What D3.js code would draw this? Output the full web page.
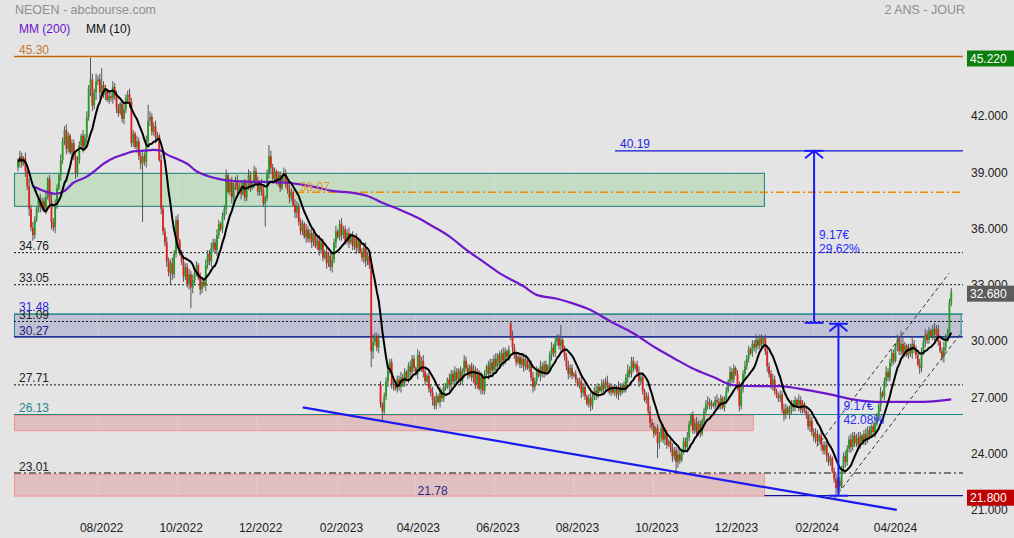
<!DOCTYPE html>
<html><head><meta charset="utf-8">
<script src="https://cdn.jsdelivr.net/npm/d3@7"></script>
<style>
body{margin:0;background:#e4e4e4;}
svg{display:block;font-family:"Liberation Sans",Arial,sans-serif;}
</style>
</head><body>
<svg id="c" width="1014" height="538"></svg>
<script>
// ---------------- DATA ----------------
// daily closes, NEOEN, from 30/05/2022 to 15/05/2024 (one value per trading day)
const closes = [
39.6,39.9,39.5,39.8,39.1,38.3,37.1,36.1,35.7,36.5,
37.1,37.6,37.2,37.5,37.1,37.7,38.7,37.5,36.4,36.1,
37.3,38.2,38.9,39.7,40.7,41.3,40.3,41.0,40.1,40.6,
39.9,39.0,39.7,40.5,41.0,40.4,40.9,42.0,43.5,44.0,
42.6,43.3,43.9,44.0,43.3,43.7,43.2,43.4,42.9,43.1,
43.0,43.6,43.1,42.5,42.2,42.7,41.9,42.4,43.0,43.2,
42.8,40.6,41.1,40.4,40.7,39.9,39.5,39.9,39.6,40.7,
41.8,42.0,41.2,41.5,40.9,41.0,39.7,37.1,35.9,35.3,
34.3,33.7,34.2,33.6,34.7,36.5,35.4,34.7,34.3,33.5,
34.0,33.1,33.6,32.9,33.3,33.7,34.1,33.4,32.8,33.2,
33.0,34.1,34.7,34.3,35.0,35.3,34.9,35.7,36.3,36.0,
36.7,37.1,38.9,38.0,38.5,37.7,38.3,38.6,38.1,38.3,
37.9,38.5,37.7,38.4,38.9,38.2,38.5,39.1,38.6,38.0,
38.4,38.1,37.4,37.7,39.0,39.9,39.3,38.7,39.1,38.5,
38.9,38.2,38.8,39.0,38.4,38.1,37.7,38.0,37.3,36.9,
37.2,36.4,35.9,36.3,35.6,36.0,35.5,35.8,35.3,35.7,
35.1,35.4,34.9,35.3,34.5,34.8,34.2,34.6,34.0,34.4,
35.3,35.9,35.6,36.3,35.7,36.0,35.4,35.8,35.3,35.7,
35.1,35.5,35.0,35.4,34.8,34.5,35.0,34.3,34.6,34.1,
29.5,30.0,30.3,29.7,30.1,26.7,26.3,27.1,27.9,28.5,
28.9,27.7,27.7,27.5,28.0,27.6,28.1,27.8,28.4,28.0,
28.7,28.4,29.1,28.6,28.3,29.3,28.6,29.0,28.4,27.9,
28.2,27.5,27.3,26.9,26.6,27.1,26.8,27.3,27.0,27.6,
27.6,28.0,27.7,28.3,27.9,28.4,28.0,28.5,27.9,28.4,
29.0,28.6,28.2,28.7,28.1,28.5,27.7,28.4,27.5,28.1,
27.4,28.3,28.7,28.3,28.9,28.5,29.1,28.7,29.3,28.9,
29.4,29.0,29.5,29.2,29.6,30.3,29.7,29.3,28.9,29.2,
28.8,29.1,28.7,29.0,28.6,28.8,28.1,27.6,27.9,28.5,
28.2,28.7,28.3,28.8,28.4,28.7,29.3,29.7,29.4,30.0,
30.2,29.8,30.1,29.6,29.2,28.7,28.3,28.6,28.2,28.3,
28.0,27.7,27.9,27.3,27.6,27.1,26.7,27.0,26.6,27.1,
27.4,27.2,27.6,27.4,27.8,27.5,27.9,27.7,27.3,27.6,
27.3,27.5,27.2,27.6,27.3,27.7,27.5,28.1,28.5,28.3,
29.0,28.6,28.8,28.4,27.9,28.1,27.4,26.9,27.1,26.3,
25.7,25.5,25.1,25.4,24.6,24.9,25.4,24.8,25.1,24.5,
24.7,24.3,23.9,24.2,23.6,24.0,23.7,24.2,24.7,24.4,
24.9,25.6,26.1,25.3,25.7,25.2,25.6,25.1,25.8,26.3,
26.7,26.8,26.6,26.7,26.6,26.9,26.8,26.6,27.0,26.5,
26.9,27.4,27.9,28.4,28.0,28.6,28.3,27.6,26.6,27.5,
28.3,28.7,29.1,29.6,29.4,29.9,29.7,30.1,29.8,30.2,
29.9,30.2,29.5,28.7,28.3,27.7,28.0,27.4,27.1,27.0,
27.2,26.4,26.1,26.5,26.2,26.3,26.7,26.5,26.9,26.6,
26.9,26.4,26.7,26.3,26.1,25.5,25.8,25.2,24.9,25.1,
24.7,25.0,24.5,24.2,24.5,23.9,23.6,23.8,23.1,22.7,
22.2,22.6,22.3,23.3,23.9,23.6,24.3,24.8,24.4,25.0,
24.6,24.9,24.5,25.0,24.7,25.1,24.8,25.3,25.0,25.5,
25.2,25.7,26.0,26.6,27.3,27.1,27.9,28.4,28.1,28.9,
29.4,29.0,29.8,30.1,29.5,29.9,29.4,29.8,29.3,29.7,
29.4,29.9,29.6,29.3,28.8,28.6,29.5,30.0,30.4,30.1,
30.6,30.3,30.7,30.4,30.7,30.0,29.5,29.2,29.7,30.2,
30.5,32.1,32.68
];
// wick lengths beyond the body, in tenths of a euro
const wicks = [
2,3,2,1,3,2,4,2,3,2, 1,2,3,2,2,3,1,2,4,2, 3,2,1,3,2,2,3,2,1,2, 2,3,2,2,1,3,2,3,2,4,
3,2,4,2,3,2,2,3,1,2, 2,3,2,3,2,1,2,3,2,2, 3,2,2,1,3,2,3,2,2,3, 2,3,2,2,3,2,1,3,2,2,
3,2,2,3,2,2,3,1,2,3, 2,2,3,2,3,2,2,1,3,2, 1,3,2,2,3,2,2,3,2,1, 2,2,3,1,2,3,2,2,3,2,
3,1,2,2,3,2,1,3,2,2, 2,3,2,1,2,3,3,2,2,1, 2,2,1,3,2,2,3,2,1,3, 3,2,2,2,1,3,2,2,3,2,
1,2,3,2,2,1,3,2,2,3, 2,3,1,2,3,2,2,2,3,1, 2,2,3,2,1,2,3,3,2,2, 3,4,2,2,3,2,1,2,2,3,
2,2,3,1,2,2,3,2,2,1, 2,3,2,2,1,3,2,2,3,2, 1,2,2,3,2,2,1,3,2,2, 2,1,3,2,2,3,2,1,2,2,
3,2,2,1,2,3,2,2,1,3, 2,2,1,3,2,2,2,3,1,2, 2,3,2,1,2,2,3,2,2,1, 2,2,3,2,1,2,2,3,2,2,
1,3,2,2,2,1,2,3,2,2, 2,2,3,1,2,2,3,2,2,1, 2,1,2,3,2,2,1,2,3,2, 2,3,2,1,2,2,2,3,1,2,
1,2,2,3,2,1,2,2,3,2, 2,2,1,2,3,2,2,1,2,2, 3,2,2,1,2,3,2,2,3,2, 1,2,3,2,2,3,2,1,2,2,
3,2,1,2,2,3,2,2,1,2, 2,3,2,2,1,2,3,2,2,1, 2,2,1,3,2,2,1,2,3,2, 2,3,2,2,1,2,2,3,2,2,
2,1,2,3,2,2,3,2,1,2, 2,2,3,2,1,3,2,2,2,1, 3,2,2,1,2,2,3,2,2,3, 2,1,3,2,2,3,2,2,1,2,
3,2,2,1,2,3,2,2,3,2, 2,2,3,2,1,2,3,2,2,1, 2,3,2,2,3,1,2,3,2,2, 2,2,1,3,2,2,3,2,1,2,
2,3,2,2,1,3,2,2,3,2, 2,1,2,3,2,2,1,2,3,2, 2,2,2
];
// opens that differ from the previous close (gaps): [day, open]
const openGaps = [[0,39.3],[195,27.7],[265,31.0]];
// notable wicks: [day, price]
const highSpikes = [[39,45.15],[45,44.6],[70,42.65],[135,40.5],[265,31.1],[292,30.9],[400,30.4],[475,30.6]];
const lowSpikes = [[67,36.4],[82,33.05],[93,31.8],[133,36.15],[190,28.65],[196,25.8],[344,23.8],[354,23.0],[440,21.8]];

// MM(200): trading day -> value
const mm200Days = [8,14,20,25,30,36,41,46,52,57,62,68,73,77,80,86,91,96,102,109,116,123,142,152,161,169,179,188,196,205,215,223,232,241,250,259,272,279,290,298,308,319,331,342,353,363,374,385,399,410,420,435,449,465,483,492,502];
const mm200Values = [38.3,38.05,37.9,38.05,38.5,38.76,39.1,39.5,39.83,40.0,40.16,40.2,40.24,40.2,40.0,39.74,39.5,39.1,38.85,38.67,38.58,38.55,38.5,38.4,38.23,38.05,37.96,37.78,37.42,37.06,36.62,36.17,35.63,34.92,34.3,33.67,32.96,32.51,32.3,32.07,31.7,31.08,30.46,29.74,29.12,28.58,28.13,27.69,27.64,27.64,27.51,27.24,26.94,26.8,26.8,26.83,26.94];

const holidays = ["2022-12-26","2023-04-07","2023-04-10","2023-05-01","2023-12-25","2023-12-26","2024-01-01","2024-03-29","2024-04-01","2024-05-01"];
const monthTickDates = ["2022-08-01","2022-10-01","2022-12-01","2023-02-01","2023-04-01","2023-06-01","2023-08-01","2023-10-01","2023-12-01","2024-02-01","2024-04-01"];
const monthTickLabels = ["08/2022","10/2022","12/2022","02/2023","04/2023","06/2023","08/2023","10/2023","12/2023","02/2024","04/2024"];
const priceTicks = [42,39,36,33,30,27,24,21];

// horizontal levels
const levelValues = [45.22, 34.76, 33.05, 31.09, 27.71, 26.13, 23.01];
const levelLabels = ["45.30","34.76","33.05","31.09","27.71","26.13","23.01"];
const levelKinds  = ["orange","dot","dot","dot","dot","teal","dashdot"];

// zones: top, bottom, last day covered
const zoneTops = [38.99, 31.48, 26.08, 22.94];
const zoneBottoms = [37.23, 30.27, 25.27, 21.78];
const zoneEndDays = [401.5, 507.3, 395.5, 401.5];
const zoneKinds = ["green","blue","pink","pink"];

// target / support lines starting at a given day
const target = {value: 40.19, label: "40.19", fromDay: 321.1};
const resistance = {value: 37.98, label: "38.07", fromDay: 149.5};
const lowLine = {value: 21.80, fromDay: 401.5};

// measurement arrows
const arrowDays = [428.2, 441.3];
const arrowFrom = [31.02, 21.80];
const arrowTo = [40.19, 30.97];
const arrowText1 = ["9.17€", "9.17€"];
const arrowText2 = ["29.62%", "42.08%"];
const arrowTextAt = [35.5, 26.35];

// trend line and channel
const trendDays = [153.15, 472.7], trendValues = [26.51, 21.04];
const chanUpDays = [429.6, 500.8], chanUpValues = [24.41, 33.66];
const chanLoDays = [438.9, 507.8], chanLoValues = [21.62, 30.54];

// price tags on the right axis
const tagValues = [45.22, 32.68, 21.80];
const tagTexts = ["45.220", "32.680", "21.800"];
const tagColors = ["#0c800c", "#5c5c5c", "#c00000"];

// ---------------- CHART ----------------
const W = 1014, H = 538;
const svg = d3.select("#c");
svg.append("rect").attr("width", W).attr("height", H).attr("fill", "#e4e4e4");

const N = closes.length;
// trading days calendar
const hol = new Set(holidays);
const dates = [];
{
  const d = new Date(Date.UTC(2022, 4, 30));
  while (dates.length < N) {
    const wd = d.getUTCDay(), key = d.toISOString().slice(0, 10);
    if (wd !== 0 && wd !== 6 && !hol.has(key)) dates.push(new Date(d));
    d.setUTCDate(d.getUTCDate() + 1);
  }
}
const x = d3.scaleLinear().domain([-2.15, 508.3]).range([14, 963]);
const y = d3.scaleLinear().domain([21.80, 45.22]).range([495.7, 56.5]);
const tx = d3.scaleTime().domain([dates[0], dates[N - 1]]).range([x(0), x(N - 1)]);
const L = x.range()[0], R = x.range()[1];

svg.append("defs").append("clipPath").attr("id", "clip")
  .append("rect").attr("x", L).attr("y", 40).attr("width", R - L).attr("height", 475);

// titles
svg.append("text").attr("x", 15).attr("y", 13.5).attr("font-size", 12.5).attr("fill", "#8f8f8f").text("NEOEN - abcbourse.com");
svg.append("text").attr("x", 965).attr("y", 13.5).attr("text-anchor", "end").attr("font-size", 12.5).attr("fill", "#8f8f8f").text("2 ANS - JOUR");
svg.append("text").attr("x", 19).attr("y", 33).attr("font-size", 12).attr("fill", "#6a10cc").text("MM (200)");
svg.append("text").attr("x", 86).attr("y", 33).attr("font-size", 12).attr("fill", "#111").text("MM (10)");

const g = svg.append("g");

// zones
const zoneFill = {green: "#c4dbc4", blue: "#c1c1d5", pink: "#dfbfbf"};
const zoneStroke = {green: "#2a8a80", blue: "#2a8a8a", pink: "#f29a9a"};
zoneTops.forEach((t, k) => {
  g.append("rect").attr("x", L + 0.5).attr("y", y(t)).attr("width", x(zoneEndDays[k]) - L - 0.5)
    .attr("height", y(zoneBottoms[k]) - y(t))
    .attr("fill", zoneFill[zoneKinds[k]]).attr("stroke", zoneStroke[zoneKinds[k]]).attr("stroke-width", 1.1);
});
// faint vertical grid (visible on zones)
monthTickDates.forEach(ds => {
  const gx = tx(new Date(ds + "T00:00:00Z")) - 2;
  zoneTops.forEach((t, k) => {
    if (gx < x(zoneEndDays[k]) - 1)
      g.append("line").attr("x1", gx).attr("x2", gx).attr("y1", y(t) + 1).attr("y2", y(zoneBottoms[k]) - 1)
        .attr("stroke", "#e2e2e2").attr("stroke-opacity", 0.45).attr("stroke-width", 1);
  });
});

// blue zone border lines extending to the right edge
g.append("line").attr("x1", L).attr("x2", R).attr("y1", y(31.48)).attr("y2", y(31.48)).attr("stroke", "#2a8a8a").attr("stroke-width", 1.1);
g.append("line").attr("x1", L).attr("x2", R).attr("y1", y(30.27)).attr("y2", y(30.27)).attr("stroke", "#121290").attr("stroke-width", 1.3);

// levels
const levelStyle = {
  orange: {stroke: "#c8640a", dash: null, w: 1.3, label: "#c87a30"},
  dot: {stroke: "#111", dash: "2,2", w: 1, label: "#222"},
  teal: {stroke: "#1f8a84", dash: null, w: 1.2, label: "#1f8a8a"},
  dashdot: {stroke: "#111", dash: "7,3,2,3", w: 1.1, label: "#222"}
};
levelValues.forEach((v, k) => {
  const s = levelStyle[levelKinds[k]];
  const ln = g.append("line").attr("x1", L).attr("x2", R).attr("y1", y(v)).attr("y2", y(v))
    .attr("stroke", s.stroke).attr("stroke-width", s.w);
  if (s.dash) ln.attr("stroke-dasharray", s.dash);
});
// target & resistance & low line
g.append("line").attr("x1", x(target.fromDay)).attr("x2", R).attr("y1", y(target.value)).attr("y2", y(target.value))
  .attr("stroke", "#1414d8").attr("stroke-width", 1.3);
g.append("line").attr("x1", x(resistance.fromDay)).attr("x2", R).attr("y1", y(resistance.value)).attr("y2", y(resistance.value))
  .attr("stroke", "#f28a00").attr("stroke-width", 1.3).attr("stroke-dasharray", "8,3,2,3");
g.append("line").attr("x1", x(lowLine.fromDay)).attr("x2", R).attr("y1", y(lowLine.value)).attr("y2", y(lowLine.value))
  .attr("stroke", "#121290").attr("stroke-width", 1.3);

// candles
const opens = closes.map((c, i) => i === 0 ? c : closes[i - 1]);
openGaps.forEach(([i, v]) => opens[i] = v);
const candles = closes.map((c, i) => {
  const o = opens[i], w = (wicks[i] ?? 2) * 0.1;
  return {i, o, c, hi: Math.max(o, c) + w, lo: Math.min(o, c) - w};
});
highSpikes.forEach(([i, v]) => candles[i].hi = v);
lowSpikes.forEach(([i, v]) => candles[i].lo = v);

const cg = g.append("g").attr("clip-path", "url(#clip)");
cg.selectAll("line.wick").data(candles).enter().append("line").attr("class", "wick")
  .attr("x1", d => x(d.i)).attr("x2", d => x(d.i))
  .attr("y1", d => y(d.hi)).attr("y2", d => y(d.lo))
  .attr("stroke", "#555").attr("stroke-width", 1);
cg.selectAll("rect.body").data(candles).enter().append("rect").attr("class", "body")
  .attr("x", d => x(d.i) - 0.9).attr("width", 1.8)
  .attr("y", d => y(Math.max(d.o, d.c)))
  .attr("height", d => Math.max(1, Math.abs(y(d.o) - y(d.c))))
  .attr("fill", d => d.c >= d.o ? "#1f9f1f" : "#e0201c");

// moving averages
const mm10 = closes.map((c, i) => {
  const s = closes.slice(Math.max(0, i - 9), i + 1);
  return {i, v: d3.mean(s)};
});
cg.append("path").datum(mm200Days.map((dd, k) => ({i: dd, v: mm200Values[k]})))
  .attr("d", d3.line().x(d => x(d.i)).y(d => y(d.v)).curve(d3.curveMonotoneX))
  .attr("fill", "none").attr("stroke", "#7016cc").attr("stroke-width", 2.2);
cg.append("path").datum(mm10)
  .attr("d", d3.line().x(d => x(d.i)).y(d => y(d.v)))
  .attr("fill", "none").attr("stroke", "#000").attr("stroke-width", 2).attr("stroke-linejoin", "round");

// trend line & channel
const seg = (days, vals) => d3.line().x((d, k) => x(days[k])).y((d, k) => y(vals[k]))(days);
cg.append("path").attr("d", seg(trendDays, trendValues)).attr("stroke", "#1b1bf0").attr("stroke-width", 2.2).attr("fill", "none");
cg.append("path").attr("d", seg(chanUpDays, chanUpValues)).attr("stroke", "#333").attr("stroke-width", 1).attr("stroke-dasharray", "4,3").attr("fill", "none");
cg.append("path").attr("d", seg(chanLoDays, chanLoValues)).attr("stroke", "#333").attr("stroke-width", 1).attr("stroke-dasharray", "4,3").attr("fill", "none");

// arrows
arrowDays.forEach((dd, k) => {
  const ax = x(dd), y0 = y(arrowFrom[k]), y1 = y(arrowTo[k]);
  const col = "#1a1aff";
  g.append("line").attr("x1", ax).attr("x2", ax).attr("y1", y0).attr("y2", y1).attr("stroke", col).attr("stroke-width", 2);
  [y0, y1].forEach(yy => g.append("line").attr("x1", ax - 9.5).attr("x2", ax + 9.5).attr("y1", yy).attr("y2", yy).attr("stroke", col).attr("stroke-width", 2));
  g.append("path").attr("d", `M${ax - 9},${y1 + 7.5}L${ax},${y1}L${ax + 9},${y1 + 7.5}`).attr("fill", "none").attr("stroke", col).attr("stroke-width", 2);
  g.append("text").attr("x", ax + 5).attr("y", y(arrowTextAt[k])).attr("font-size", 12).attr("fill", "#2a2aff").text(arrowText1[k]);
  g.append("text").attr("x", ax + 5).attr("y", y(arrowTextAt[k]) + 14).attr("font-size", 12).attr("fill", "#2a2aff").text(arrowText2[k]);
});

// level labels
const lab = (txt, xx, yy, col, anchor) => g.append("text").attr("x", xx).attr("y", yy).attr("font-size", 12)
  .attr("fill", col).attr("text-anchor", anchor || "start").text(txt);
levelValues.forEach((v, k) => lab(levelLabels[k], 19, y(v) - 2.5, levelStyle[levelKinds[k]].label));
lab("31.48", 19, y(31.48) - 3, "#2a2ae0");
lab("30.27", 19, y(30.27) - 1.5, "#1e1e80");
lab(target.label, 620, y(target.value) - 3, "#2424e0");
lab(resistance.label, x(resistance.fromDay) + 4, y(resistance.value) - 1.5, "#e8962a");
lab("21.78", x(223), y(21.78) - 1.5, "#2a2a8a", "middle");

// x axis labels
monthTickDates.forEach((ds, k) => {
  svg.append("text").attr("x", tx(new Date(ds + "T00:00:00Z")) + 1.5).attr("y", 532)
    .attr("text-anchor", "middle").attr("font-size", 12).attr("fill", "#222").text(monthTickLabels[k]);
});
// y axis labels
priceTicks.forEach(v => {
  svg.append("text").attr("x", 971).attr("y", y(v) + 3.5).attr("font-size", 12).attr("fill", "#222").text(d3.format(".3f")(v));
});
// price tags
tagValues.forEach((v, k) => {
  const cy = y(v) + 2;
  svg.append("rect").attr("x", 967).attr("y", cy - 8).attr("width", 47).attr("height", 16).attr("fill", tagColors[k]);
  svg.append("text").attr("x", 970).attr("y", cy + 4).attr("font-size", 12).attr("fill", "#fff").text(tagTexts[k]);
});
</script>
</body></html>
